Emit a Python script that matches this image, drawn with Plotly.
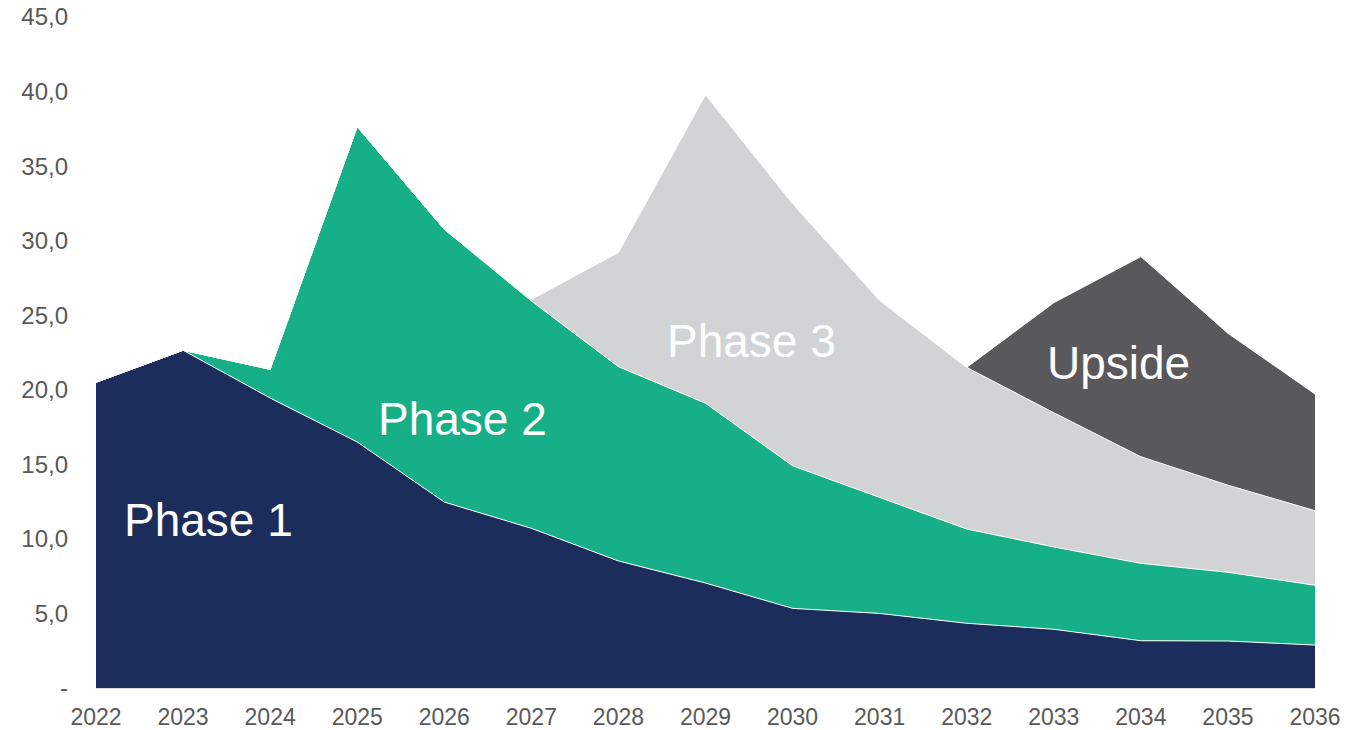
import plotly.graph_objects as go

years = list(range(2022, 2037))
phase1 = [20.5, 22.65, 19.45, 16.5, 12.47, 10.71, 8.52, 7.04, 5.34, 5.0, 4.34, 3.94, 3.17, 3.15, 2.88]
phase2_top = [20.5, 22.65, 21.37, 37.65, 30.76, 25.96, 21.55, 19.1, 14.9, 12.8, 10.66, 9.46, 8.36, 7.76, 6.89]
phase3_top = [None, None, None, None, None, 26.07, 29.22, 39.8, 32.5, 26.0, 21.5, 18.46, 15.51, 13.6, 11.89]
upside_top = [None] * 10 + [21.5, 25.84, 28.93, 23.79, 19.72]

phase2 = [t - b for t, b in zip(phase2_top, phase1)]
phase3 = [0 if t is None else t - b for t, b in zip(phase3_top, phase2_top)]
upside = [0 if t is None else t - (b if b is not None else 0) for t, b in zip(upside_top, phase3_top)]

ytick_vals = [0, 5, 10, 15, 20, 25, 30, 35, 40, 45]
ytick_text = ["-", "5,0", "10,0", "15,0", "20,0", "25,0", "30,0", "35,0", "40,0", "45,0"]

series = [
    ("Phase 1", phase1, "#1C2D5B"),
    ("Phase 2", phase2, "#17AF87"),
    ("Phase 3", phase3, "#D1D3D5"),
    ("Upside", upside, "#59595B"),
]

fig = go.Figure()
for name, vals, col in series:
    fig.add_trace(go.Scatter(
        x=years, y=vals, name=name, mode="lines", stackgroup="one",
        line=dict(color="white", width=1), fillcolor=col, hoverinfo="x+y",
    ))

font_family = "Liberation Sans, Arial, sans-serif"
labels = [
    ("Phase 1", 2023.29, 11.27),
    ("Phase 2", 2026.21, 18.03),
    ("Phase 3", 2029.53, 23.25),
    ("Upside", 2033.74, 21.78),
]
for txt, x, y in labels:
    fig.add_annotation(x=x, y=y, text=txt, showarrow=False,
                       font=dict(family=font_family, size=46, color="white"),
                       xanchor="center", yanchor="middle")

fig.update_layout(
    width=1370, height=730,
    margin=dict(l=96, r=55, t=17, b=42, autoexpand=False),
    paper_bgcolor="white", plot_bgcolor="white",
    showlegend=False,
    font=dict(family=font_family, size=23, color="#595959"),
    xaxis=dict(range=[2022, 2036], tickmode="array", tickvals=years,
               ticktext=[str(y) for y in years], showgrid=False, zeroline=False,
               showline=True, linecolor="#D9D9D9", linewidth=1,
               ticks="", ticklabelstandoff=8, automargin=False,
               ticklabeloverflow="allow", tickfont=dict(size=23)),
    yaxis=dict(range=[0, 45], tickmode="array", tickvals=ytick_vals, ticktext=ytick_text,
               showgrid=False, zeroline=False, showline=False, ticks="",
               ticklabelstandoff=27, automargin=False, ticklabeloverflow="allow",
               tickfont=dict(size=24)),
)

fig.write_html("out.html", config={"displayModeBar": False},
               post_script="document.body.style.margin='0';")
